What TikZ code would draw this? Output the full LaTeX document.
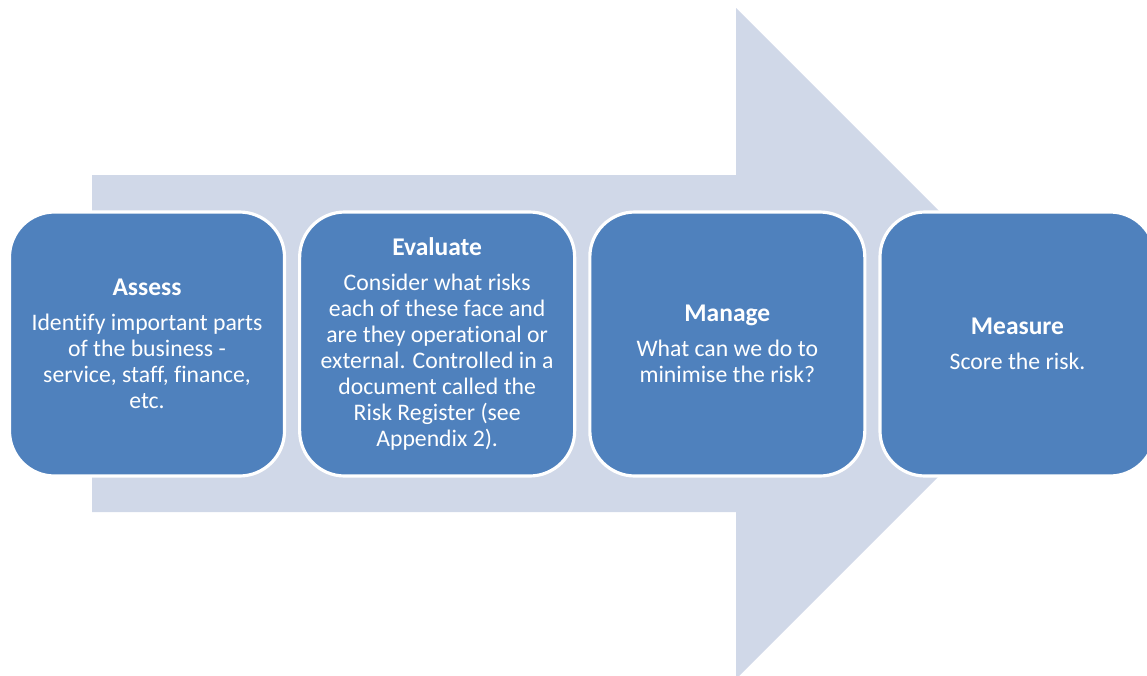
\documentclass[tikz,border=0pt]{standalone}
\usepackage{fontspec}
\setmainfont{Carlito}[Ligatures=NoCommon]
\usepackage{xcolor}
\usepackage{tikz}
\definecolor{stepblue}{HTML}{4F81BD}
\definecolor{arrowgray}{HTML}{D0D8E8}
\tikzset{
  stepbox/.style={draw=white, line width=1.8pt, fill=stepblue,
                  rounded corners=0.9cm,
                  minimum width=5.5cm, minimum height=5.28cm,
                  align=center, inner sep=2pt, text=white,
                  font=\fontsize{13.5}{14.8}\selectfont},
  bigarrow/.style={fill=arrowgray, draw=none}
}
\usetikzlibrary{positioning}
\newcommand{\steptitle}[1]{{\fontsize{14.5}{14.8}\selectfont\bfseries #1}}

\begin{document}
\begin{tikzpicture}[
    node distance=0.24cm
]
\useasboundingbox (0,0) rectangle (22.94,-13.5);
\coordinate (s0) at (1.84,-3.5);
\coordinate (s1) at (14.72,-3.5);
\coordinate (h0) at (14.72,-0.16);
\coordinate (tip) at (21.43,-6.87);
\coordinate (h1) at (14.72,-13.58);
\coordinate (s2) at (14.72,-10.24);
\coordinate (s3) at (1.84,-10.24);
\fill[bigarrow] (s0) -- (s1) -- (h0) -- (tip) -- (h1) -- (s2) -- (s3) -- cycle;
\node[stepbox] (assess) at (2.94,-6.88)
    {\steptitle{Assess}\\[5pt]
     Identify important parts\\ of the business -\\
     service, staff, finance,\\ etc.};
\node[stepbox, right=of assess] (evaluate)
    {\steptitle{Evaluate}\\[5pt]
     Consider what risks\\ each of these face and\\
     are they operational or\\ external. Controlled in a\\
     document called the\\ Risk Register (see\\ Appendix 2).};
\node[stepbox, right=of evaluate] (manage)
    {\steptitle{Manage}\\[5pt]
     What can we do to\\ minimise the risk?};
\node[stepbox, right=of manage] (measure)
    {\steptitle{Measure}\\[5pt]
     Score the risk.};
\end{tikzpicture}
\end{document}
